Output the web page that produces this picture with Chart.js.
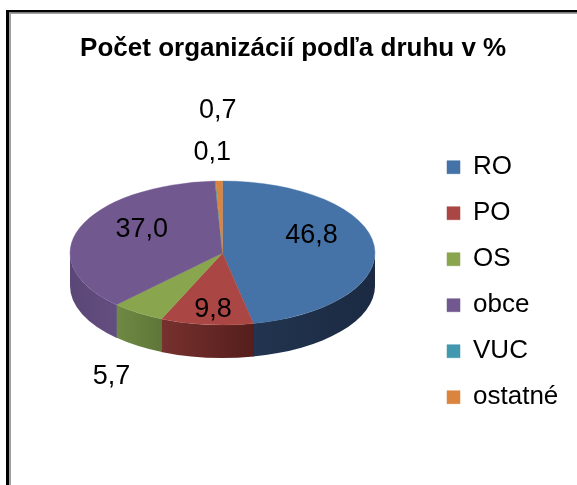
<!DOCTYPE html>
<html><head><meta charset="utf-8">
<script src="https://cdn.jsdelivr.net/npm/chart.js@4"></script>
<style>html,body{margin:0;padding:0;background:#fff;}#wrap{width:577px;height:485px;position:relative;overflow:hidden}</style>
</head><body><div id="wrap"><canvas id="c" width="577" height="485"></canvas></div>
<script>
// ---- data ----
const categories = ['RO', 'PO', 'OS', 'obce', 'VUC', 'ostatné'];
const values = [46.8, 9.8, 5.7, 37.0, 0.1, 0.7];
const chartTitle = 'Počet organizácií podľa druhu v %';

// ---- styles ----
const topColors = ['#4572A7', '#AA4643', '#89A54E', '#71588F', '#4198AF', '#DB843D'];
const sideColors = [
  ['#22344f', '#1b2a42'],
  ['#77312e', '#551e1c'],
  ['#6f8a44', '#5e7638'],
  ['#5b4776', '#634e80'],
  ['#2f6f80', '#2a6272'],
  ['#a5602c', '#935426']
];
const labelNudge = [[-2, -15], [0, 11], [0, 0], [5, -10], [0, 0], [0, 0]];
const insideMin = 7;          // slices below this % get their label outside
const squash = 72 / 152.5;    // vertical flattening of the pie top
const depth = 33;             // thickness of the pie
const pieCenterY = 253;       // where the flattened pie sits on the page
const FONT = '"Liberation Sans", Arial, Helvetica, sans-serif';
const labelSize = 27;

const fmt = v => v.toFixed(1).replace('.', ',');

const framePlugin = {
  id: 'frame',
  beforeDraw(chart) {
    const c = chart.ctx;
    c.save();
    c.fillStyle = '#ffffff';
    c.fillRect(0, 0, chart.width, chart.height);
    c.fillStyle = '#000000';
    c.fillRect(6, 10, 3, chart.height);
    c.fillRect(6, 10, chart.width, 2.6);
    c.fillStyle = '#a0a0a0';
    c.fillRect(9, 12.6, 2, chart.height);
    c.fillRect(9, 12.6, chart.width, 1.4);
    c.restore();
  }
};

const pie3d = {
  id: 'pie3d',
  beforeDatasetsDraw(chart) {
    const c = chart.ctx;
    const arcs = chart.getDatasetMeta(0).data;
    if (!arcs.length) return;
    const cx = arcs[0].x, cy0 = arcs[0].y, r = arcs[0].outerRadius;
    const cy = pieCenterY;
    const ry = r * squash;
    arcs.forEach((arc, i) => {
      const a0 = Math.max(arc.startAngle - 0.003, 0);
      const a1 = Math.min(arc.endAngle + 0.003, Math.PI);
      if (a1 <= a0) return;
      const xl = cx + r * Math.cos(a1), xr = cx + r * Math.cos(a0);
      const g = c.createLinearGradient(xl, 0, xr, 0);
      g.addColorStop(0, sideColors[i][0]);
      g.addColorStop(1, sideColors[i][1]);
      c.fillStyle = g;
      c.beginPath();
      c.ellipse(cx, cy, r, ry, 0, a0, a1, false);
      c.ellipse(cx, cy + depth, r, ry, 0, a1, a0, true);
      c.closePath();
      c.fill();
    });
    c.save();
    c.translate(0, cy);
    c.scale(1, squash);
    c.translate(0, -cy0);
  },
  afterDatasetsDraw(chart) {
    const c = chart.ctx;
    c.restore();
    const arcs = chart.getDatasetMeta(0).data;
    if (!arcs.length) return;
    const cx = arcs[0].x, r = arcs[0].outerRadius;
    const cy = pieCenterY;
    const ry = r * squash;
    c.save();
    c.font = labelSize + 'px ' + FONT;
    c.fillStyle = '#000000';
    c.textAlign = 'center';
    c.textBaseline = 'alphabetic';
    const cap = 0.716 * labelSize;
    const step = 42;
    const placed = [];
    arcs.forEach((arc, i) => {
      const mid = (arc.startAngle + arc.endAngle) / 2;
      const txt = fmt(values[i]);
      const w = c.measureText(txt).width;
      let x, y;
      if (values[i] >= insideMin) {
        x = cx + 0.6 * r * Math.cos(mid) + labelNudge[i][0];
        y = cy + 0.6 * ry * Math.sin(mid) + labelNudge[i][1];
      } else {
        const ax = cx + r * Math.cos(mid);
        const ay = cy + ry * Math.sin(mid) + (Math.sin(mid) > 0 ? depth : 0);
        let dx = ax - cx, dy = ay - cy;
        const len = Math.hypot(dx, dy) || 1;
        dx /= len; dy /= len;
        const D = 19 + Math.abs(dx) * w / 2 + Math.abs(dy) * cap / 2;
        x = ax + dx * D;
        y = ay + dy * D;
        let guard = 0;
        let hit;
        while ((hit = placed.find(p => Math.abs(p.x - x) < (p.w + w) / 2 && Math.abs(p.y - y) < step)) && guard++ < 10) {
          y = dy < 0 ? hit.y - step : hit.y + step;
        }
      }
      placed.push({x, y, w});
      c.fillText(txt, x, y + cap / 2);
    });
    c.restore();
  }
};

new Chart(document.getElementById('c'), {
  type: 'pie',
  data: {
    labels: categories,
    datasets: [{
      data: values,
      backgroundColor: topColors,
      borderColor: topColors,
      borderWidth: 0.5,
      radius: 152.5,
      clip: false
    }]
  },
  options: {
    responsive: false,
    animation: false,
    events: [],
    radius: 152.5,
    layout: { padding: { left: 18, right: 8.7, top: 10, bottom: 0 } },
    plugins: {
      title: {
        display: true,
        text: chartTitle,
        color: '#000000',
        font: { family: FONT, size: 26, weight: 'bold' },
        padding: { top: 23, bottom: 70 }
      },
      legend: {
        position: 'right',
        align: 'start',
        fullSize: false,
        labels: {
          boxWidth: 13,
          boxHeight: 13,
          padding: 20,
          color: '#000000',
          font: { family: FONT, size: 26 }
        }
      },
      tooltip: { enabled: false }
    }
  },
  plugins: [framePlugin, pie3d]
});
</script>
</body></html>
